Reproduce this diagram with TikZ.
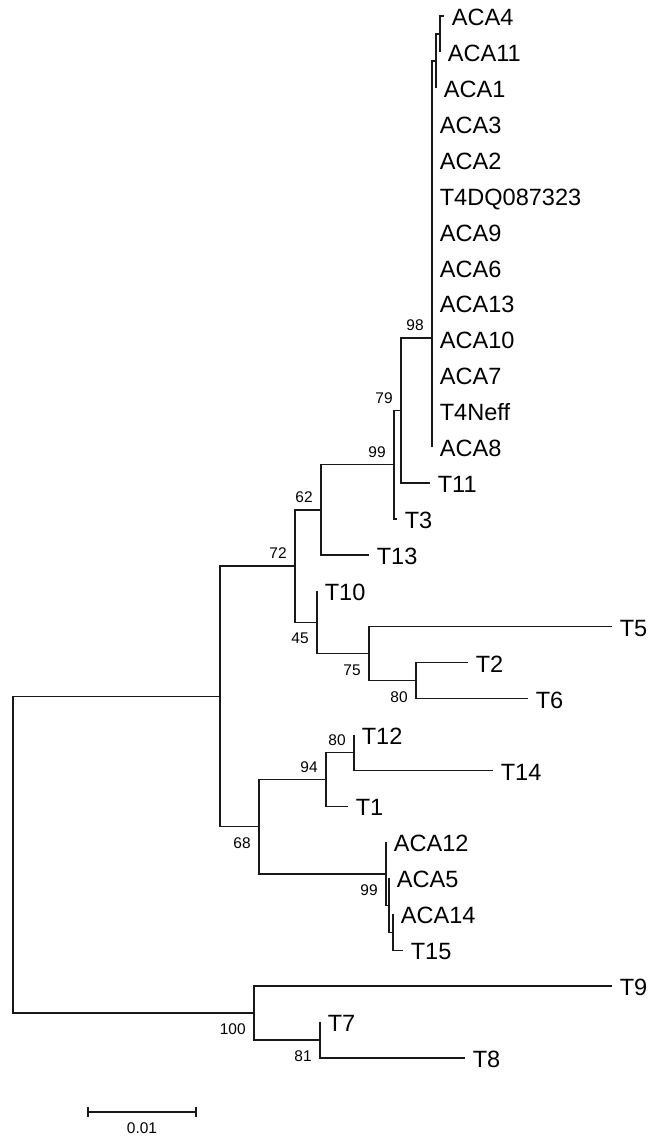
\documentclass[tikz,border=0pt]{standalone}
\usepackage{fontspec}
\setmainfont{Liberation Sans}

\tikzset{
  branch/.style={black!90,line width=0.75pt},
  leaf/.style={anchor=base west,inner sep=0pt,xshift=0.150cm,yshift=-0.190cm,font=\fontsize{13.4}{16}\selectfont},
  bootup/.style={anchor=south east,inner sep=0pt,xshift=-0.160cm,yshift=0.140cm,font=\fontsize{8.8}{10}\selectfont},
  bootdown/.style={anchor=north east,inner sep=0pt,xshift=-0.160cm,yshift=-0.210cm,font=\fontsize{8.8}{10}\selectfont},
  scalelabel/.style={anchor=north,inner sep=0pt,font=\fontsize{8.8}{10}\selectfont},
}

\begin{document}
\begin{tikzpicture}
\useasboundingbox (0.000,0.000) rectangle (13.200,-22.720);
% internal nodes
\coordinate (R) at (0.260,-17.095);
\coordinate (A) at (4.400,-13.927);
\coordinate (B) at (5.900,-11.322);
\coordinate (C) at (6.420,-10.198);
\coordinate (D) at (7.880,-9.296);
\coordinate (E) at (8.020,-8.211);
\coordinate (F) at (8.640,-6.760);
\coordinate (N2) at (8.720,-1.218);
\coordinate (N1) at (8.800,-0.679);
\coordinate (G) at (6.340,-12.446);
\coordinate (H) at (7.380,-13.075);
\coordinate (I) at (8.320,-13.614);
\coordinate (K) at (5.180,-16.533);
\coordinate (J) at (6.520,-15.590);
\coordinate (L) at (7.080,-15.051);
\coordinate (M) at (7.720,-17.477);
\coordinate (N3) at (7.780,-18.105);
\coordinate (N4) at (7.860,-18.644);
\coordinate (P) at (5.080,-20.261);
\coordinate (Q) at (6.400,-20.800);
% tips
\coordinate (tACA4) at (8.880,-0.320);
\coordinate (tACA11) at (8.800,-1.039);
\coordinate (tACA1) at (8.720,-1.757);
\coordinate (tACA3) at (8.640,-2.476);
\coordinate (tACA2) at (8.640,-3.194);
\coordinate (tT4DQ) at (8.640,-3.913);
\coordinate (tACA9) at (8.640,-4.632);
\coordinate (tACA6) at (8.640,-5.350);
\coordinate (tACA13) at (8.640,-6.069);
\coordinate (tACA10) at (8.640,-6.787);
\coordinate (tACA7) at (8.640,-7.506);
\coordinate (tT4Neff) at (8.640,-8.225);
\coordinate (tACA8) at (8.640,-8.943);
\coordinate (tT11) at (8.600,-9.662);
\coordinate (tT3) at (7.940,-10.380);
\coordinate (tT13) at (7.380,-11.099);
\coordinate (tT10) at (6.340,-11.818);
\coordinate (tT5) at (12.240,-12.536);
\coordinate (tT2) at (9.360,-13.255);
\coordinate (tT6) at (10.560,-13.973);
\coordinate (tT12) at (7.080,-14.692);
\coordinate (tT14) at (9.860,-15.411);
\coordinate (tT1) at (6.960,-16.129);
\coordinate (tACA12) at (7.720,-16.848);
\coordinate (tACA5) at (7.780,-17.566);
\coordinate (tACA14) at (7.860,-18.285);
\coordinate (tT15) at (8.060,-19.004);
\coordinate (tT9) at (12.240,-19.722);
\coordinate (tT7) at (6.400,-20.441);
\coordinate (tT8) at (9.300,-21.159);
% branches
\draw[branch] (R) |- (A);
\draw[branch] (R) |- (P);
\draw[branch] (A) |- (B);
\draw[branch] (A) |- (K);
\draw[branch] (B) |- (C);
\draw[branch] (B) |- (G);
\draw[branch] (C) |- (D);
\draw[branch] (C) |- (tT13);
\draw[branch] (D) |- (E);
\draw[branch] (D) |- (tT3);
\draw[branch] (E) |- (F);
\draw[branch] (E) |- (tT11);
\draw[branch] (F) |- (N2);
\draw[branch] (N2) |- (N1);
\draw[branch] (N2) |- (tACA1);
\draw[branch] (N1) |- (tACA4);
\draw[branch] (N1) |- (tACA11);
\draw[branch] (F) |- (tACA3);
\draw[branch] (F) |- (tACA2);
\draw[branch] (F) |- (tT4DQ);
\draw[branch] (F) |- (tACA9);
\draw[branch] (F) |- (tACA6);
\draw[branch] (F) |- (tACA13);
\draw[branch] (F) |- (tACA10);
\draw[branch] (F) |- (tACA7);
\draw[branch] (F) |- (tT4Neff);
\draw[branch] (F) |- (tACA8);
\draw[branch] (G) |- (tT10);
\draw[branch] (G) |- (H);
\draw[branch] (H) |- (tT5);
\draw[branch] (H) |- (I);
\draw[branch] (I) |- (tT2);
\draw[branch] (I) |- (tT6);
\draw[branch] (K) |- (J);
\draw[branch] (K) |- (M);
\draw[branch] (J) |- (L);
\draw[branch] (J) |- (tT1);
\draw[branch] (L) |- (tT12);
\draw[branch] (L) |- (tT14);
\draw[branch] (M) |- (tACA12);
\draw[branch] (M) |- (N3);
\draw[branch] (N3) |- (tACA5);
\draw[branch] (N3) |- (N4);
\draw[branch] (N4) |- (tACA14);
\draw[branch] (N4) |- (tT15);
\draw[branch] (P) |- (tT9);
\draw[branch] (P) |- (Q);
\draw[branch] (Q) |- (tT7);
\draw[branch] (Q) |- (tT8);
% leaf names
\node[leaf] (nACA4) at (tACA4) {ACA4};
\node[leaf] (nACA11) at (tACA11) {ACA11};
\node[leaf] (nACA1) at (tACA1) {ACA1};
\node[leaf] (nACA3) at (tACA3) {ACA3};
\node[leaf] (nACA2) at (tACA2) {ACA2};
\node[leaf] (nT4DQ) at (tT4DQ) {T4DQ087323};
\node[leaf] (nACA9) at (tACA9) {ACA9};
\node[leaf] (nACA6) at (tACA6) {ACA6};
\node[leaf] (nACA13) at (tACA13) {ACA13};
\node[leaf] (nACA10) at (tACA10) {ACA10};
\node[leaf] (nACA7) at (tACA7) {ACA7};
\node[leaf] (nT4Neff) at (tT4Neff) {T4Neff};
\node[leaf] (nACA8) at (tACA8) {ACA8};
\node[leaf] (nT11) at (tT11) {T11};
\node[leaf] (nT3) at (tT3) {T3};
\node[leaf] (nT13) at (tT13) {T13};
\node[leaf] (nT10) at (tT10) {T10};
\node[leaf] (nT5) at (tT5) {T5};
\node[leaf] (nT2) at (tT2) {T2};
\node[leaf] (nT6) at (tT6) {T6};
\node[leaf] (nT12) at (tT12) {T12};
\node[leaf] (nT14) at (tT14) {T14};
\node[leaf] (nT1) at (tT1) {T1};
\node[leaf] (nACA12) at (tACA12) {ACA12};
\node[leaf] (nACA5) at (tACA5) {ACA5};
\node[leaf] (nACA14) at (tACA14) {ACA14};
\node[leaf] (nT15) at (tT15) {T15};
\node[leaf] (nT9) at (tT9) {T9};
\node[leaf] (nT7) at (tT7) {T7};
\node[leaf] (nT8) at (tT8) {T8};
% bootstrap values
\node[bootup] (bF) at (F) {98};
\node[bootup] (bE) at (E) {79};
\node[bootup] (bD) at (D) {99};
\node[bootup] (bC) at (C) {62};
\node[bootup] (bB) at (B) {72};
\node[bootdown] (bG) at (G) {45};
\node[bootdown] (bH) at (H) {75};
\node[bootdown] (bI) at (I) {80};
\node[bootup] (bL) at (L) {80};
\node[bootup] (bJ) at (J) {94};
\node[bootdown] (bK) at (K) {68};
\node[bootdown] (bM) at (M) {99};
\node[bootdown] (bP) at (P) {100};
\node[bootdown] (bQ) at (Q) {81};
% scale bar
\coordinate (sb1) at (1.760,-22.240);
\coordinate (sb2) at (3.920,-22.240);
\draw[branch] (sb1) -- (sb2);
\draw[branch] ([yshift=0.1cm]sb1) -- ([yshift=-0.1cm]sb1);
\draw[branch] ([yshift=0.1cm]sb2) -- ([yshift=-0.1cm]sb2);
\node[scalelabel] (sbl) at (2.840,-22.450) {0.01};
\end{tikzpicture}
\end{document}
